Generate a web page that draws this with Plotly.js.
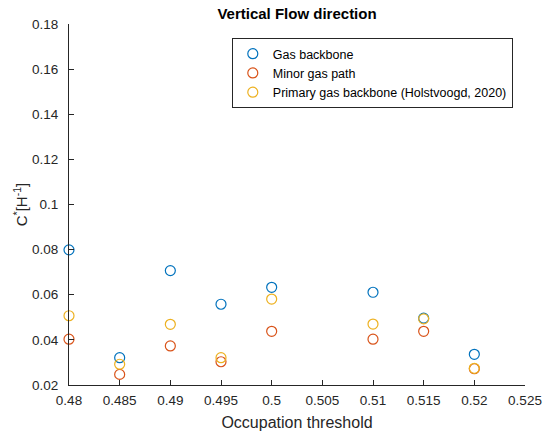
<!DOCTYPE html>
<html><head><meta charset="utf-8">
<script src="https://cdn.plot.ly/plotly-3.0.1.min.js"></script>
<style>body{margin:0;background:#fff}#chart{width:545px;height:434px}</style>
</head><body><div id="chart"></div>
<script>
const thresholds = [0.48, 0.485, 0.49, 0.495, 0.5, 0.51, 0.515, 0.52];
const gasBackbone = [0.0799, 0.0321, 0.0707, 0.0558, 0.0633, 0.0611, 0.0496, 0.0336];
const minorGasPath = [0.0403, 0.0247, 0.0373, 0.0303, 0.0438, 0.0403, 0.0438, 0.0272];
const primaryBackbone = [0.0507, 0.0292, 0.0469, 0.0321, 0.0581, 0.0470, 0.0493, 0.0274];
const seriesNames = ['Gas backbone', 'Minor gas path', 'Primary gas backbone (Holstvoogd, 2020)'];
const colors = ['#0072BD', '#D95319', '#EDB120'];
const xTicks = [0.48, 0.485, 0.49, 0.495, 0.5, 0.505, 0.51, 0.515, 0.52, 0.525];
const xTickText = ['0.48','0.485','0.49','0.495','0.5','0.505','0.51','0.515','0.52','0.525'];
const yTicks = [0.02,0.04,0.06,0.08,0.1,0.12,0.14,0.16,0.18];
const yTickText = ['0.02','0.04','0.06','0.08','0.1','0.12','0.14','0.16','0.18'];

const ys = [gasBackbone, minorGasPath, primaryBackbone];
const traces = ys.map((y, i) => ({
  x: thresholds, y: y, type: 'scatter', mode: 'markers', name: seriesNames[i],
  cliponaxis: false,
  marker: {symbol: 'circle-open', size: 10, color: colors[i], line: {width: 1.2, color: colors[i]}}
}));
const font = {family: 'Liberation Sans, Arial, sans-serif', color: '#262626'};
const layout = {
  width: 545, height: 434,
  margin: {l: 69, r: 20, t: 24, b: 49},
  paper_bgcolor: '#fff', plot_bgcolor: '#fff',
  font: Object.assign({size: 13}, font),
  title: {text: '<b>Vertical Flow direction</b>', font: Object.assign({size: 15}, font, {color: '#000'}), x: 0.545, xanchor: 'center', y: 0.968, yanchor: 'middle'},
  xaxis: {range: [0.48, 0.525], tickvals: xTicks, ticktext: xTickText, ticks: 'inside', ticklen: 5, tickcolor: '#262626',
    showline: true, linecolor: '#262626', linewidth: 1, showgrid: false, zeroline: false, mirror: false,
    ticklabelstandoff: 3,
    title: {text: 'Occupation threshold', font: Object.assign({size: 16}, font), standoff: 9}, tickfont: Object.assign({size: 13.5}, font)},
  yaxis: {range: [0.02, 0.18], tickvals: yTicks, ticktext: yTickText, ticks: 'inside', ticklen: 5, tickcolor: '#262626',
    showline: true, linecolor: '#262626', linewidth: 1, showgrid: false, zeroline: false, mirror: false,
    ticklabelstandoff: 7,
    title: {text: 'C<sup>*</sup>[H<sup>-1</sup>]', font: Object.assign({size: 15}, font), standoff: 0}, tickfont: Object.assign({size: 13.5}, font)},
  showlegend: true,
  legend: {x: 0.357, y: 0.961, xanchor: 'left', yanchor: 'top', bgcolor: '#fff', bordercolor: '#262626', borderwidth: 1,
    font: Object.assign({size: 12.5}, font, {color: '#000'}), itemwidth: 30}
};
Plotly.newPlot('chart', traces, layout, {displayModeBar: false, staticPlot: true});
</script></body></html>
